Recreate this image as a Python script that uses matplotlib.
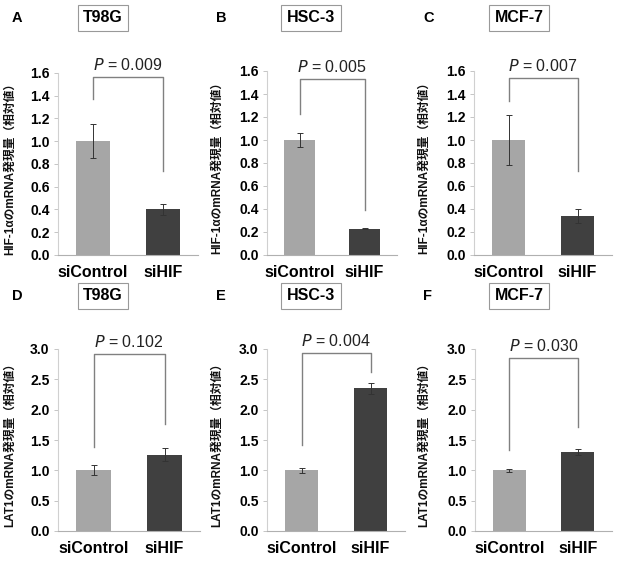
import numpy as np
import matplotlib.pyplot as plt

plt.rcParams['font.family'] = ['Liberation Sans', 'Noto Sans CJK JP', 'DejaVu Sans']

groups = ['siControl', 'siHIF']
letters = ['A', 'B', 'C', 'D', 'E', 'F']
cells = ['T98G', 'HSC-3', 'MCF-7', 'T98G', 'HSC-3', 'MCF-7']

hif_means = [[1.0, 0.40], [1.0, 0.23], [1.0, 0.34]]
hif_errs = [[0.15, 0.05], [0.06, 0.005], [0.22, 0.06]]
hif_p = ['0.009', '0.005', '0.007']
hif_bracket = [[1.37, 0.74, 1.565], [1.23, 0.39, 1.53], [1.34, 0.73, 1.54]]

lat_means = [[1.0, 1.26], [1.0, 2.35], [1.0, 1.30]]
lat_errs = [[0.08, 0.10], [0.04, 0.09], [0.03, 0.05]]
lat_p = ['0.102', '0.004', '0.030']
lat_bracket = [[1.39, 1.77, 2.91], [1.42, 2.62, 2.93], [1.34, 1.71, 2.85]]

colors = ['#a6a6a6', '#404040']

W, H = 623, 576
fig = plt.figure(figsize=(W / 100, H / 100), dpi=100)

# axes boxes in pixels: left, top, width, height
boxes = [(58, 73, 140, 182), (267, 71, 130, 184), (474, 71, 138, 184),
         (58, 349, 142, 182), (267, 349, 138, 182), (475, 349, 137, 182)]
title_x = [103, 311, 519, 103, 311, 519]
letter_x = [12, 216, 423, 12, 216, 423]
ylab_x = [10, 217, 424, 10, 217, 424]
row_y = [18, 296]

for i in range(6):
    l, t, w, h = boxes[i]
    ax = fig.add_axes([l / W, 1 - (t + h) / H, w / W, h / H])
    top_row = i < 3
    if top_row:
        means, errs, p, br = hif_means[i], hif_errs[i], hif_p[i], hif_bracket[i]
        ymax, step = 1.6, 0.2
        ylab = 'HIF-1αのmRNA発現量（相対値）'
    else:
        j = i - 3
        means, errs, p, br = lat_means[j], lat_errs[j], lat_p[j], lat_bracket[j]
        ymax, step = 3.0, 0.5
        ylab = 'LAT1のmRNA発現量（相対値）'

    x = np.arange(2)
    ax.bar(x, means, width=0.48, color=colors, zorder=2)
    ax.errorbar(x, means, yerr=errs, fmt='none', ecolor='#333333',
                elinewidth=0.7, capsize=2, capthick=0.7, zorder=3)

    # significance bracket
    ax.plot([0, 0, 1, 1], [br[0], br[2], br[2], br[1]], color='#808080',
            lw=1, clip_on=False, zorder=4)
    ax.annotate('$\\mathit{P}$ = ' + p, xy=(0.5, br[2]), xytext=(0, 3),
                textcoords='offset points', ha='center', va='bottom',
                fontsize=11.5, color='#222222', annotation_clip=False)

    ax.set_xlim(-0.5, 1.5)
    ax.set_ylim(0, ymax)
    ax.set_yticks(np.arange(0, ymax + 0.01, step))
    ax.set_yticklabels(['%.1f' % v for v in np.arange(0, ymax + 0.01, step)],
                       fontweight='bold', fontsize=10)
    ax.set_xticks(x)
    ax.set_xticklabels(groups, fontweight='bold', fontsize=11.5)
    ax.tick_params(axis='x', length=0, pad=7)
    ax.tick_params(axis='y', length=3, width=0.6, color='#bbbbbb', pad=3)
    for s in ['top', 'right']:
        ax.spines[s].set_visible(False)
    ax.spines['left'].set_color('#d0d0d0')
    ax.spines['bottom'].set_color('#b0b0b0')

    fig.text(ylab_x[i] / W, 1 - (t + h / 2 + 2) / H, ylab, rotation=90,
             ha='center', va='center', fontsize=8.5, fontweight='bold',
             color='#111111')

    ty = row_y[0] if top_row else row_y[1]
    fig.text(title_x[i] / W, 1 - ty / H, cells[i], ha='center', va='center',
             fontsize=11.5, fontweight='bold',
             bbox=dict(boxstyle='square,pad=0.35', fc='white', ec='#999999', lw=0.8))
    fig.text(letter_x[i] / W, 1 - ty / H, letters[i], ha='left', va='center',
             fontsize=10.5, fontweight='bold')

fig.savefig('out.png', dpi=100, facecolor='white')
